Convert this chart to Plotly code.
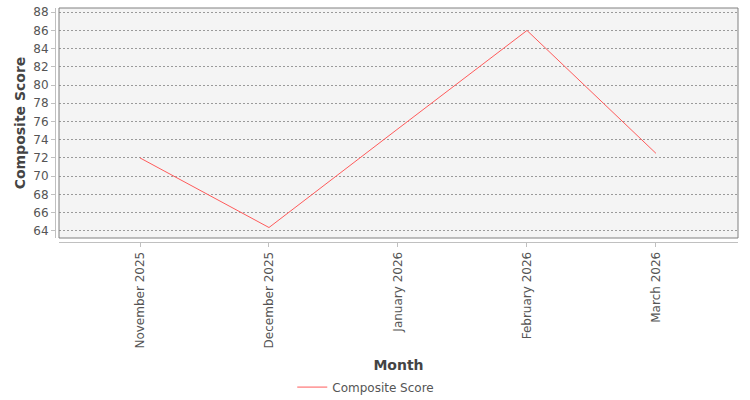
import plotly.graph_objects as go

months = ["November 2025", "December 2025", "January 2026", "February 2026", "March 2026"]
scores = [72.0, 64.35, 75.2, 86.0, 72.5]
y_ticks = [64, 66, 68, 70, 72, 74, 76, 78, 80, 82, 84, 86, 88]

W, H = 750, 400
ml, mr, mt, mb = 55, 12, 8, 158
pw, ph = W - ml - mr, H - mt - mb

fig = go.Figure()
fig.add_trace(go.Scatter(
    x=months, y=scores, mode="lines", name="Composite Score",
    line=dict(color="#ff5b5b", width=1),
))

fig.update_layout(
    width=W, height=H,
    margin=dict(l=ml, r=mr, t=mt, b=mb, autoexpand=False),
    paper_bgcolor="white",
    plot_bgcolor="#f4f4f4",
    font=dict(family="DejaVu Sans", size=12, color="#555555"),
    showlegend=True,
    legend=dict(orientation="h", x=0.455, xanchor="center", y=-0.62, yanchor="middle",
                font=dict(size=12, color="#555555"), itemwidth=30),
    xaxis=dict(
        type="category", range=[-0.628, 4.636],
        domain=[4 / pw, 1], anchor="free", position=0,
        showgrid=False, zeroline=False,
        showline=True, linecolor="#c0c0c0", linewidth=1,
        ticks="outside", ticklen=4, tickcolor="#c0c0c0",
        tickangle=-90, tickfont=dict(size=12, color="#555555"),
        title=dict(text="<b>Month</b>", font=dict(size=14, color="#444444"), standoff=12),
    ),
    yaxis=dict(
        range=[63.2, 88.47], tickvals=y_ticks,
        domain=[4 / ph, 1], anchor="free", position=0,
        showgrid=True, gridcolor="#9a9a9a", gridwidth=1, griddash="2px,2px",
        zeroline=False,
        showline=True, linecolor="#c0c0c0", linewidth=1,
        ticks="outside", ticklen=4, tickcolor="#c0c0c0",
        tickfont=dict(size=12, color="#555555"),
        title=dict(text="<b>Composite Score</b>", font=dict(size=14, color="#444444"), standoff=3),
    ),
    shapes=[dict(type="rect", xref="x domain", yref="y domain", x0=0, x1=1, y0=0, y1=1,
                 line=dict(color="#808080", width=1), fillcolor="rgba(0,0,0,0)", layer="above")],
)

fig.write_html("out.html")
